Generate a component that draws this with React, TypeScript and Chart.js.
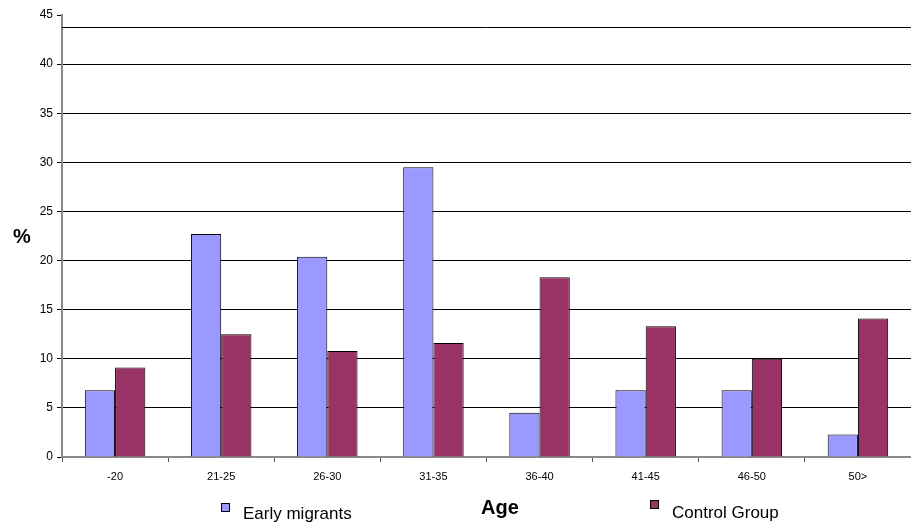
import React, { useEffect, useRef } from "react";
import { Chart, registerables } from "chart.js";

Chart.register(...registerables);

const categories = ["-20", "21-25", "26-30", "31-35", "36-40", "41-45", "46-50", "50>"];
const earlyMigrants = [6.8, 22.7, 20.4, 29.5, 4.5, 6.8, 6.8, 2.3];
const controlGroup = [9.1, 12.5, 10.8, 11.6, 18.3, 13.3, 10.0, 14.1];
const seriesNames = ["Early migrants", "Control Group"];
const seriesColors = ["#9999FF", "#993366"];
const yTicksMax = 45;
const topFrameValue = 43.8;

const FONT = "'Liberation Sans', Arial, sans-serif";

const decorPlugin = {
  id: "decor",
  beforeDatasetsDraw(chart: any) {
    const { ctx, chartArea, scales } = chart;
    const y = Math.round(scales.y.getPixelForValue(topFrameValue)) + 0.5;
    ctx.save();
    ctx.strokeStyle = "#000";
    ctx.lineWidth = 1;
    ctx.beginPath();
    ctx.moveTo(chartArea.left, y);
    ctx.lineTo(chartArea.right, y);
    ctx.stroke();
    ctx.restore();
  },
  afterDraw(chart: any) {
    const { ctx, chartArea } = chart;
    ctx.save();
    ctx.fillStyle = "#000";
    ctx.font = `bold 20px ${FONT}`;
    ctx.textAlign = "center";
    ctx.textBaseline = "middle";
    ctx.fillText("%", 22, (chartArea.top + chartArea.bottom) / 2 + 1);
    ctx.fillText("Age", 500, 508);
    const items = [
      { x: 221, y: 503, tx: 243, ty: 514 },
      { x: 650, y: 500, tx: 672, ty: 513 },
    ];
    ctx.font = `17px ${FONT}`;
    ctx.textAlign = "left";
    items.forEach((it, i) => {
      ctx.fillStyle = seriesColors[i];
      ctx.fillRect(it.x, it.y, 8, 8);
      ctx.strokeStyle = "#000";
      ctx.lineWidth = 1;
      ctx.strokeRect(it.x + 0.5, it.y + 0.5, 8, 8);
      ctx.fillStyle = "#000";
      ctx.fillText(seriesNames[i], it.tx, it.ty);
    });
    ctx.restore();
  },
};

export default function App() {
  const ref = useRef<HTMLCanvasElement>(null);
  useEffect(() => {
    if (!ref.current) return;
    const chart = new Chart(ref.current, {
      type: "bar",
      data: {
        labels: categories,
        datasets: [
          {
            label: seriesNames[0],
            data: earlyMigrants,
            backgroundColor: seriesColors[0],
            borderColor: "#000",
            borderWidth: 1,
          },
          {
            label: seriesNames[1],
            data: controlGroup,
            backgroundColor: seriesColors[1],
            borderColor: "#000",
            borderWidth: 1,
          },
        ],
      },
      options: {
        animation: false,
        responsive: false,
        maintainAspectRatio: false,
        layout: { padding: { top: 15, right: 0, bottom: 42, left: 0 } },
        plugins: { legend: { display: false }, tooltip: { enabled: false } },
        datasets: { bar: { categoryPercentage: 0.57, barPercentage: 1 } },
        scales: {
          x: {
            offset: true,
            afterFit: (s: any) => {
              s.height = 30;
            },
            grid: {
              offset: true,
              drawOnChartArea: false,
              drawTicks: true,
              tickLength: 5,
              tickColor: "#555",
            },
            border: { color: "#888", width: 2 },
            ticks: { color: "#000", font: { family: FONT, size: 11 }, padding: 8, maxRotation: 0 },
          },
          y: {
            min: 0,
            max: yTicksMax,
            afterFit: (s: any) => {
              s.width = 62;
            },
            grid: {
              color: (c: any) => (c.tick && c.tick.value === yTicksMax ? "rgba(0,0,0,0)" : "#000"),
              tickColor: "#000",
              tickLength: 5,
              lineWidth: 1,
            },
            border: { color: "#888", width: 2 },
            ticks: { stepSize: 5, color: "#000", font: { family: FONT, size: 12 }, padding: 4 },
          },
        },
      },
      plugins: [decorPlugin],
    } as any);
    return () => chart.destroy();
  }, []);
  return (
    <div style={{ position: "fixed", left: 0, top: 0, width: 911, height: 529, background: "#fff" }}>
      <canvas ref={ref} width={911} height={529} style={{ width: 911, height: 529 }} />
    </div>
  );
}
